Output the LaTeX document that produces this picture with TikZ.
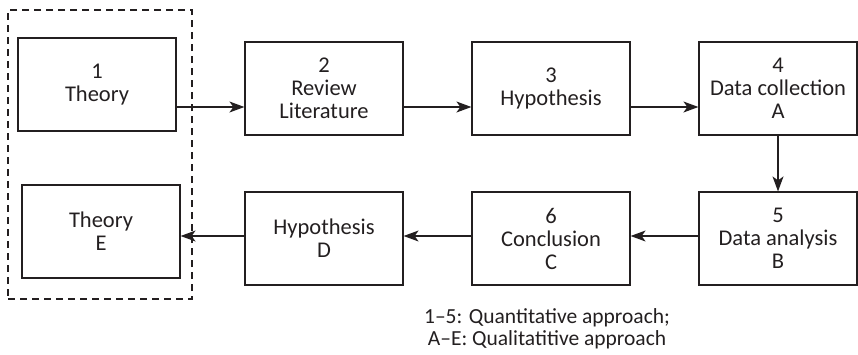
\documentclass[tikz,border=0pt]{standalone}
\usepackage{fontspec}
\setmainfont{Carlito}
\usetikzlibrary{arrows.meta}
\definecolor{ink}{HTML}{231F20}
\tikzset{
  stepbox/.style={draw=ink, line width=1.2pt, rectangle, minimum width=158pt, minimum height=93pt,
    inner sep=0pt, align=center, text=ink, font=\fontsize{22.5}{23}\selectfont},
  grpbox/.style={draw=ink, line width=1.2pt, dash pattern=on 7pt off 5pt, rectangle,
    minimum width=184pt, minimum height=289pt, inner sep=0pt},
  arr/.style={draw=ink, line width=1.2pt, -{Stealth[length=15pt,width=11pt,inset=4pt]}},
  note/.style={text=ink, align=center, font=\fontsize{21.5}{22}\selectfont, inner sep=0pt}
}
\begin{document}
\begin{tikzpicture}[x=1pt,y=-1pt]
\useasboundingbox (0,0) rectangle (858,354);
\node[grpbox] (grp) at (100,154.5) {};
\node[stepbox] (b1) at (97,84.5) {1\\Theory};
\node[stepbox] (b2) at (324,88.5) {2\\Review\\Literature};
\node[stepbox] (b3) at (551,88.5) {3\\Hypothesis};
\node[stepbox] (b4) at (778,88.5) {4\\Data collection\\A};
\node[stepbox] (b5) at (778,238.5) {5\\Data analysis\\B};
\node[stepbox] (b6) at (551,238.5) {6\\Conclusion\\C};
\node[stepbox] (bD) at (324,238.5) {Hypothesis\\D};
\node[stepbox] (bE) at (101,231.5) {Theory\\E};
\coordinate (ytop) at (0,107);
\coordinate (ybot) at (0,236);
\draw[arr] (b1.east |- ytop) -- (b2.west |- ytop);
\draw[arr] (b2.east |- ytop) -- (b3.west |- ytop);
\draw[arr] (b3.east |- ytop) -- (b4.west |- ytop);
\draw[arr] (b4.south) -- (b5.north);
\draw[arr] (b5.west |- ybot) -- (b6.east |- ybot);
\draw[arr] (b6.west |- ybot) -- (bD.east |- ybot);
\draw[arr] (bD.west |- ybot) -- (bE.east |- ybot);
\node[note] (nt) at (547,329) {1–5: Quantitative approach;\\A–E: Qualitatitive approach};
\end{tikzpicture}
\end{document}
